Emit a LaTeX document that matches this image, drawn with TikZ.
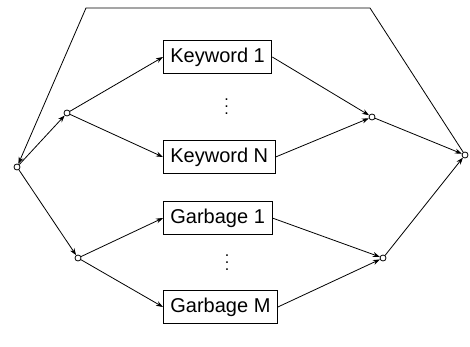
\documentclass[tikz,border=0pt]{standalone}
\usepackage{fontspec}
\setmainfont{Liberation Sans}
\usetikzlibrary{arrows.meta,positioning,calc}
\begin{document}
\begin{tikzpicture}[x=1pt,y=-1pt,line width=0.8pt,
		box/.style={draw,anchor=west,minimum height=33pt,inner xsep=7pt,font=\fontsize{20}{22}\selectfont},
		vdots/.style={inner sep=0pt,xshift=8pt,align=center,font=\fontsize{16}{7}\selectfont},
		junc/.style={circle,draw,fill=white,inner sep=0pt,minimum size=6pt},
		arr/.style={-{Stealth[length=7pt,width=5pt]}}]
			\useasboundingbox (0,0) rectangle (470,347);
			\node(kw1)		[box] at (163,57)		{Keyword 1};
			\node(kwN)		[box] at (163,157)		{Keyword N};
			\node(gb1)		[box] at (163,218)		{Garbage 1};
			\node(gbM)		[box] at (163,307)		{Garbage M};
			\node(kwdots)	[vdots] at ($(kw1)!0.5!(kwN)$)	{.\\.\\.};
			\node(gbdots)	[vdots] at ($(gb1)!0.5!(gbM)$)	{.\\.\\.};
			\node(start)	[junc] at (17,167)		{};
			\node(kwsplit)	[junc] at (67,113)		{};
			\node(kwjoin)	[junc] at (372,117)		{};
			\node(gbsplit)	[junc] at (78,258)		{};
			\node(gbjoin)	[junc] at (383,258)		{};
			\node(final)	[junc] at (465,155)		{};
			\coordinate(topL) at (86,8);
			\coordinate(topR) at (370,8);
			\draw[arr]	(start)		-- (kwsplit);
			\draw[arr]	(start)		-- (gbsplit);
			\draw[arr]	(kwsplit)	-- (kw1.west);
			\draw[arr]	(kwsplit)	-- (kwN.west);
			\draw[arr]	(gbsplit)	-- (gb1.west);
			\draw[arr]	(gbsplit)	-- (gbM.west);
			\draw[arr]	(kw1.east)	-- (kwjoin);
			\draw[arr]	(kwN.east)	-- (kwjoin);
			\draw[arr]	(gb1.east)	-- (gbjoin);
			\draw[arr]	(gbM.east)	-- (gbjoin);
			\draw[arr]	(kwjoin)	-- (final);
			\draw[arr]	(gbjoin)	-- (final);
			\draw[arr]	(final)		-- (topR) -- (topL) -- (start);
		\end{tikzpicture}
\end{document}
